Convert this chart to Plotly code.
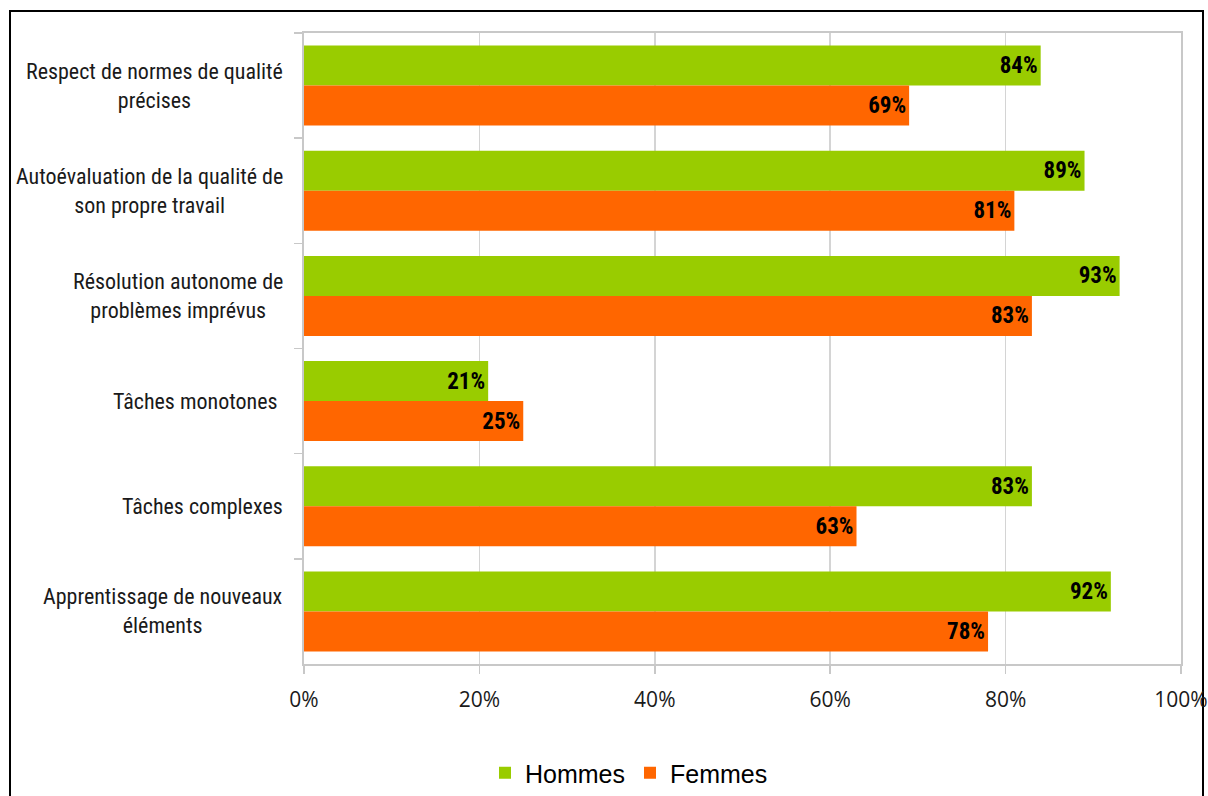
import plotly.graph_objects as go

categories = [
    "Respect de normes de qualité<br>précises",
    "Autoévaluation de la qualité de<br>son propre travail",
    "Résolution autonome de<br>problèmes imprévus",
    "Tâches monotones ",
    "Tâches complexes",
    "Apprentissage de nouveaux<br>éléments",
]
hommes = [84, 89, 93, 21, 83, 92]
femmes = [69, 81, 83, 25, 63, 78]
x_ticks = [0, 20, 40, 60, 80, 100]
x_tick_labels = ["0%", "20%", "40%", "60%", "80%", "100%"]

W, H = 1208, 796
L, R, T, B = 304, 27, 33, 132
pw, ph = W - L - R, H - T - B

def px_x(p):
    return (p - L) / pw

def px_y(p):
    return (H - B - p) / ph

narrow = "Liberation Sans Narrow, Arial Narrow, Roboto Condensed, sans-serif"

fig = go.Figure()
fig.add_trace(go.Bar(
    name="Hommes", y=categories, x=hommes, orientation="h",
    marker=dict(color="#99CC00", line=dict(width=0)),
    text=[f"{v}%" for v in hommes], textposition="inside",
    insidetextanchor="end", constraintext="none",
    textfont=dict(family=narrow, size=23, color="#000000", weight="bold"),
))
fig.add_trace(go.Bar(
    name="Femmes", y=categories, x=femmes, orientation="h",
    marker=dict(color="#FF6600", line=dict(width=0)),
    text=[f"{v}%" for v in femmes], textposition="inside",
    insidetextanchor="end", constraintext="none",
    textfont=dict(family=narrow, size=23, color="#000000", weight="bold"),
))

annotations = []
for c in categories:
    annotations.append(dict(
        x=0, xref="paper", y=c, yref="y", text=c, showarrow=False,
        xanchor="right", yanchor="middle", align="center", xshift=-19,
        font=dict(family=narrow, size=22, color="#1a1a1a"),
    ))

fig.update_layout(
    width=W, height=H,
    margin=dict(l=L, r=R, t=T, b=B, autoexpand=False),
    paper_bgcolor="white", plot_bgcolor="white",
    barmode="group", bargap=0.24, bargroupgap=0,
    showlegend=True,
    legend=dict(
        orientation="h", x=px_x(485), y=px_y(773), xanchor="left", yanchor="middle",
        font=dict(family="Liberation Sans, Arial, sans-serif", size=25, color="#000000"),
        traceorder="normal", itemwidth=30,
    ),
    annotations=annotations,
    shapes=[dict(
        type="rect", xref="paper", yref="paper",
        x0=px_x(10), x1=px_x(1203), y0=px_y(805), y1=px_y(11),
        line=dict(color="#000000", width=2), fillcolor="rgba(0,0,0,0)", layer="below",
    )],
    xaxis=dict(
        range=[0, 100], tickvals=x_ticks, ticktext=x_tick_labels,
        showgrid=True, gridcolor="#d4d4d4", gridwidth=1.5,
        showline=True, linecolor="#c8c8c8", linewidth=2, mirror=True,
        ticks="outside", ticklen=8, tickcolor="#c8c8c8", tickwidth=1.5,
        tickfont=dict(family="Open Sans, sans-serif", size=21, color="#1a1a1a"),
        ticklabelstandoff=8, zeroline=False, fixedrange=True,
    ),
    yaxis=dict(
        autorange="reversed", type="category",
        showticklabels=False, showgrid=False,
        showline=True, linecolor="#c8c8c8", linewidth=2, mirror=True,
        ticks="outside", ticklen=8, tickcolor="#c8c8c8", tickwidth=1.5,
        tickson="boundaries", fixedrange=True,
    ),
)

fig.write_html(
    "out.html",
    config={"displayModeBar": False, "staticPlot": True},
    post_script="document.documentElement.style.overflow='hidden';"
                "document.body.style.margin='0';document.body.style.overflow='hidden';",
)
